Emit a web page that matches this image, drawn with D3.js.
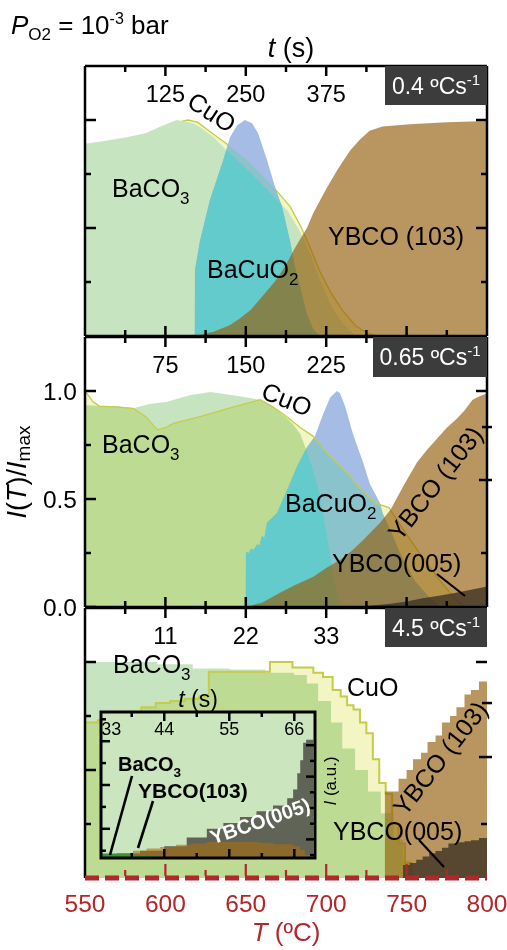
<!DOCTYPE html>
<html><head><meta charset="utf-8">
<script src="https://cdn.jsdelivr.net/npm/d3@7"></script>
<style>
body{margin:0;background:#fff;}
svg{display:block;font-family:"Liberation Sans",Arial,Helvetica,sans-serif;}
</style></head><body>
<svg id="chart" width="507" height="950"></svg>
<script>
// ---------- data: [T (°C), I/Imax] ----------
const tempTicks = [575,600,625,650,675,700,725,750,775];
const tempLabels = [550,600,650,700,750,800];
const rates = ["0.4","0.65","4.5"];
const timeLabels = [[125,250,375],[75,150,225],[11,22,33]];

const p1BaCO3 = [[550,0.89],[560,0.9],[576,0.92],[588,0.94],[597,0.97],[607,1.0],[617,0.985],[621,0.97],[630,0.92],[638,0.86],[648,0.79],[659,0.71],[668,0.64],[676,0.58],[684,0.48],[690,0.38],[696,0.26],[703,0.14],[710,0.06],[718,0]];
const p1CuO = [[550,0.86],[580,0.9],[600,0.96],[608,0.99],[614,1.0],[620,0.99],[627,0.95],[638,0.89],[650,0.82],[660,0.745],[670,0.665],[677.5,0.6],[684,0.51],[690,0.41],[696,0.3],[703,0.2],[710,0.12],[718,0.05],[725,0.015],[732,0]];
const p1BaCuO2 = [[618.3,0],[618.4,0.305],[621.5,0.44],[627.7,0.63],[635.8,0.81],[640.2,0.92],[644.5,0.975],[649.5,1.0],[653.9,0.985],[657.6,0.94],[663.2,0.815],[668.2,0.69],[672.5,0.6],[677.5,0.44],[680.6,0.32],[683.7,0.23],[688,0.1],[692,0.03],[696,0]];
const p1YBCO103 = [[618,0],[630,0.02],[640,0.05],[646,0.08],[653,0.12],[661,0.19],[669,0.26],[675,0.33],[680,0.4],[688,0.5],[692,0.57],[700,0.68],[707,0.77],[715,0.86],[721,0.91],[727,0.95],[735,0.97],[752,0.98],[775,0.99],[800,0.995]];

const p2BaCO3 = [[550,0.935],[560,0.93],[570,0.93],[580,0.92],[590,0.94],[601,0.95],[615,0.98],[628,0.995],[642,0.98],[659,0.96],[666,0.93],[673,0.89],[679,0.85],[684,0.8],[688,0.72],[692,0.63],[696,0.52],[701,0.3],[705.5,0.1],[709,0]];
const p2CuO = [[550,1.0],[555,0.95],[559,0.93],[570,0.925],[580,0.92],[588,0.88],[595,0.82],[600,0.83],[605,0.85],[621,0.88],[642,0.925],[659,0.96],[666,0.93],[673,0.895],[679,0.86],[684,0.83],[692,0.79],[702,0.7],[712,0.63],[722,0.54],[731,0.48],[739,0.46],[746,0.38],[758,0.25],[771,0.12],[780,0.04],[786,0]];
const p2BaCuO2 = [[650,0],[650.1,0.255],[652,0.25],[653,0.27],[655,0.265],[657,0.29],[658.5,0.285],[660,0.33],[661.5,0.32],[663.2,0.39],[669.4,0.435],[675.6,0.54],[681.8,0.65],[688,0.74],[693,0.79],[697.4,0.88],[702.4,0.97],[706.7,1.0],[708.6,0.99],[711.7,0.93],[716.7,0.8],[722.9,0.67],[727.2,0.57],[733.5,0.48],[735.3,0.43],[739.7,0.36],[745.9,0.25],[755.2,0.12],[764.6,0.04],[770.8,0]];
const p2YBCO103 = [[650,0],[660,0.02],[671,0.065],[680,0.1],[692,0.14],[700,0.18],[709,0.22],[716,0.26],[723,0.31],[733.5,0.39],[740,0.45],[748,0.56],[756.5,0.67],[763,0.73],[769,0.78],[775,0.83],[781,0.87],[786,0.91],[791,0.96],[795,0.975],[800,0.99]];
const p2YBCO005 = [[720,0],[730,0.008],[740,0.015],[750,0.025],[760,0.04],[770,0.052],[780,0.065],[790,0.08],[800,0.095]];

const p3BaCO3 = [[550,1.0],[595,0.99],[617,0.97],[640,0.965],[662,0.95],[680,0.94],[688,0.9],[695,0.82],[703,0.72],[710,0.6],[718,0.5],[726,0.4],[734,0.3],[742,0.18],[748,0.08],[753,0]];
const p3CuO = [[550,0.72],[558,0.73],[567,0.75],[576,0.77],[585,0.79],[594,0.81],[603,0.82],[612,0.83],[621,0.84],[627,0.955],[665,1.0],[679,0.975],[692,0.95],[698,0.93],[704,0.87],[709,0.84],[713,0.8],[717,0.78],[721,0.72],[725,0.67],[729,0.55],[733,0.44],[737,0.39],[741,0.25],[745,0.16],[749,0.07],[753,0]];
const p3YBCO103 = [[732,0],[736.5,0.40],[741,0.40],[745,0.46],[750,0.5],[754,0.55],[759,0.58],[763,0.63],[768,0.66],[772,0.72],[777,0.75],[781,0.79],[786,0.85],[790,0.87],[795,0.91],[800,0.92]];
const p3YBCO005 = [[747.8,0.06],[752,0.07],[756,0.085],[760,0.1],[764,0.115],[768,0.125],[772,0.14],[776,0.16],[781,0.165],[786,0.17],[790,0.175],[795,0.185],[800,0.19]];

// inset: [t (s), I (a.u.)]
const insetTimeLabels = [33,44,55,66];
const insetTimeTicks = [38.5,44,49.5,55,60.5,66];
const insetBaCO3 = [[33.3,0.03],[36,0.025],[39,0.02],[41,0.012],[43,0]];
const insetYBCO103 = [[33.3,0.02],[36,0.035],[38.7,0.05],[41,0.065],[43.3,0.075],[46,0.09],[48.5,0.1],[51.2,0.11],[56.8,0.11],[60,0.105],[62.4,0.095],[65.8,0.08],[67,0.055],[67.8,0.02],[68.7,0]];
const insetYBCO005 = [[33.3,0.02],[36,0.03],[39.9,0.05],[44,0.08],[47.8,0.14],[51.2,0.2],[54,0.24],[56.8,0.28],[59.6,0.32],[62.4,0.36],[64.8,0.41],[65.8,0.47],[66.5,0.58],[67,0.67],[67.5,0.79],[68,0.81],[69.2,0.81]];

// ---------- styles ----------
const C = {
  green: "rgb(199,228,192)",
  yellow: "rgb(238,240,165)",
  cuoLine: "rgb(196,204,72)",
  blue: "rgb(165,188,228)",
  teal: "rgb(109,204,177)",
  cyan: "rgb(73,208,201)",
  brown: "rgb(148,95,11)",
  dark: "rgb(55,45,35)",
  box: "#3c3c3c",
  red: "#b3262a",
  insetBg: "rgb(203,229,191)",
  insetGreen: "rgb(50,150,60)",
  insetGray: "rgb(95,100,86)",
  insetBrown: "rgb(170,108,18)"
};
const LABEL = 25;

const svg = d3.select("#chart");
const defs = svg.append("defs");
const X0 = 85, X1 = 487, PH = 270;
const x = d3.scaleLinear().domain([550,800]).range([X0,X1]);
const y = d3.scaleLinear().domain([0,1.25]).range([PH,0]);

const panels = [
  {top:66, BaCO3:p1BaCO3, CuO:p1CuO, BaCuO2:p1BaCuO2, Y103:p1YBCO103, Y005:null, step:false, cuoUnder:true,
   box:[385,102,39], rightTicks:[1,0.75,0.5,0.25], extraRight:[], leftLabels:false},
  {top:337, BaCO3:p2BaCO3, CuO:p2CuO, BaCuO2:p2BaCuO2, Y103:p2YBCO103, Y005:p2YBCO005, step:false, cuoUnder:false,
   box:[373,114,40], rightTicks:[1,0.25], extraRight:[[0.833,5],[0.588,8]], leftLabels:true},
  {top:608, BaCO3:p3BaCO3, CuO:p3CuO, BaCuO2:null, Y103:p3YBCO103, Y005:p3YBCO005, step:true, cuoUnder:false,
   box:[385,102,39], rightTicks:[1,0.25], extraRight:[[0.81,5],[0.56,8]], leftLabels:false}
];

function areaGen(step){
  return d3.area().x(d=>x(d[0])).y0(y(0)).y1(d=>y(d[1])).curve(step?d3.curveStepAfter:d3.curveLinear);
}
function lineGen(step){
  return d3.line().x(d=>x(d[0])).y(d=>y(d[1])).curve(step?d3.curveStepAfter:d3.curveLinear);
}

panels.forEach((p,i)=>{
  const g = svg.append("g").attr("transform",`translate(0,${p.top})`);
  const area = areaGen(p.step), line = lineGen(p.step);
  defs.append("clipPath").attr("id",`pc${i}`).append("rect").attr("x",X0).attr("y",0).attr("width",X1-X0).attr("height",PH);
  const body = g.append("g").attr("clip-path",`url(#pc${i})`);

  const drawCuO = () => {
    body.append("path").attr("d",area(p.CuO)).attr("fill",C.yellow).attr("fill-opacity",0.65).style("mix-blend-mode","multiply");
  };
  const drawCuOLine = () => {
    body.append("path").attr("d",line(p.CuO)).attr("fill","none").attr("stroke",C.cuoLine).attr("stroke-width",p.step?2:1.3);
  };
  if (p.cuoUnder){ drawCuO(); drawCuOLine(); }
  body.append("path").attr("d",area(p.BaCO3)).attr("fill",C.green);
  if (!p.cuoUnder){ drawCuO(); }

  if (p.BaCuO2){
    defs.append("clipPath").attr("id",`cuoc${i}`).append("path").attr("d",area(p.CuO));
    defs.append("clipPath").attr("id",`bac${i}`).append("path").attr("d",area(p.BaCO3));
    body.append("path").attr("d",area(p.BaCuO2)).attr("fill",C.blue);
    body.append("g").attr("clip-path",`url(#cuoc${i})`)
      .append("path").attr("d",area(p.BaCuO2)).attr("fill",C.teal).attr("fill-opacity",0.45);
    body.append("g").attr("clip-path",`url(#bac${i})`)
      .append("path").attr("d",area(p.BaCuO2)).attr("fill",C.cyan).attr("fill-opacity",0.6);
  }
  if (!p.cuoUnder){ drawCuOLine(); }
  body.append("path").attr("d",area(p.Y103)).attr("fill",C.brown).attr("fill-opacity",0.655);
  if (p.Y005){
    body.append("path").attr("d",area(p.Y005)).attr("fill",C.dark).attr("fill-opacity",0.75);
  }

  // frame
  const fr = g.append("g").attr("stroke","#000").attr("stroke-width",2.5).attr("fill","none");
  fr.append("line").attr("x1",X0).attr("x2",X1).attr("y1",0).attr("y2",0);
  fr.append("line").attr("x1",X0).attr("x2",X0).attr("y1",0).attr("y2",PH);
  if (i<2){
    fr.append("line").attr("x1",X1).attr("x2",X1).attr("y1",0).attr("y2",PH);
    fr.append("line").attr("x1",X0).attr("x2",X1).attr("y1",PH).attr("y2",PH);
  }
  // top ticks (inward) and bottom ticks (inward)
  tempTicks.forEach(T=>{
    const len = (T%50===0)?10:6;
    fr.append("line").attr("x1",x(T)).attr("x2",x(T)).attr("y1",0).attr("y2",len);
    if (i<2) fr.append("line").attr("x1",x(T)).attr("x2",x(T)).attr("y1",PH).attr("y2",PH-len);
  });
  // left ticks
  [0.25,0.5,0.75,1.0].concat(i===1?[0]:[]).forEach(v=>{
    const len = (v===0.25||v===0.75)?6:11;
    fr.append("line").attr("x1",X0).attr("x2",X0+len).attr("y1",y(v)).attr("y2",y(v));
  });
  // right ticks
  p.rightTicks.forEach(v=>{
    const len = (v===0.25||v===0.75)?6:11;
    fr.append("line").attr("x1",X1).attr("x2",X1-len).attr("y1",y(v)).attr("y2",y(v));
  });
  p.extraRight.forEach(([v,len])=>{
    fr.append("line").attr("x1",X1-len).attr("x2",X1+5).attr("y1",y(v)).attr("y2",y(v));
  });

  // time labels on the top axis (placed at 600/650/700 °C)
  g.selectAll(".tl").data(timeLabels[i]).enter().append("text")
    .attr("x",(d,k)=>x(600+50*k)).attr("y",36)
    .attr("text-anchor","middle").attr("font-size",23.5).text(d=>d);

  // rate box
  const [bx,bw,bh] = p.box;
  g.append("rect").attr("x",bx).attr("y",0).attr("width",bw).attr("height",bh).attr("fill",C.box);
  const rt = g.append("text").attr("x",bx+bw/2).attr("y",bh/2+8).attr("text-anchor","middle")
    .attr("fill","#fff").attr("font-size",23);
  rt.append("tspan").text(rates[i]+" ºCs");
  rt.append("tspan").attr("dy",-9).attr("font-size",15).text("-1");

  if (p.leftLabels){
    [0,0.5,1.0].forEach(v=>{
      g.append("text").attr("x",77).attr("y",y(v)+9).attr("text-anchor","end").attr("font-size",24.5).text(v.toFixed(1));
    });
  }
});

// ---------- text labels ----------
function chem(parent, xPos, yPos, main, sub, size, opts={}){
  const t = parent.append("text").attr("x",xPos).attr("y",yPos).attr("font-size",size);
  if (opts.weight) t.attr("font-weight",opts.weight);
  if (opts.fill) t.attr("fill",opts.fill);
  t.append("tspan").text(main);
  t.append("tspan").attr("dy",size*0.28).attr("font-size",size*0.68).text(sub);
  return t;
}
function rotText(xc, yc, ang, str, size, opts={}){
  const t = svg.append("text").attr("transform",`translate(${xc},${yc}) rotate(${ang})`)
    .attr("text-anchor","middle").attr("dominant-baseline","central").attr("font-size",size).text(str);
  if (opts.weight) t.attr("font-weight",opts.weight);
  if (opts.fill) t.attr("fill",opts.fill);
  return t;
}
function plain(xPos, yPos, str, size){
  return svg.append("text").attr("x",xPos).attr("y",yPos).attr("font-size",size).text(str);
}
function leader(x1,y1,x2,y2,w){
  svg.append("line").attr("x1",x1).attr("y1",y1).attr("x2",x2).attr("y2",y2).attr("stroke","#000").attr("stroke-width",w||2);
}

// panel 1
chem(svg,112,197,"BaCO","3",LABEL);
rotText(212,112,33,"CuO",LABEL);
chem(svg,207,278,"BaCuO","2",LABEL);
plain(328,245,"YBCO (103)",LABEL);
// panel 2
chem(svg,102,453,"BaCO","3",LABEL);
rotText(287,399,22,"CuO",LABEL);
chem(svg,285,512,"BaCuO","2",LABEL);
rotText(435,483,-52,"YBCO (103)",LABEL);
plain(332,572,"YBCO(005)",LABEL);
leader(437,574,465,596,2.2);
// panel 3
chem(svg,113,673,"BaCO","3",LABEL);
plain(347,696,"CuO",LABEL);
rotText(440,758,-52,"YBCO (103)",LABEL);
plain(333,840,"YBCO(005)",LABEL);
leader(419,840,444,867,2.2);

// ---------- inset ----------
const ix = d3.scaleLinear().domain([33.3,69.5]).range([101,315]);
const iy = d3.scaleLinear().domain([0,1]).range([858,712]);
const iArea = d3.area().x(d=>ix(d[0])).y0(iy(0)).y1(d=>iy(d[1])).curve(d3.curveStepAfter);
const ins = svg.append("g");
defs.append("clipPath").attr("id","insc").append("rect").attr("x",101).attr("y",712).attr("width",214).attr("height",146);
ins.append("rect").attr("x",101).attr("y",712).attr("width",214).attr("height",146).attr("fill",C.insetBg);
const ib = ins.append("g").attr("clip-path","url(#insc)");
ib.append("path").attr("d",iArea(insetYBCO005)).attr("fill",C.insetGray);
ib.append("path").attr("d",iArea(insetYBCO103)).attr("fill",C.insetBrown).attr("fill-opacity",0.6);
ib.append("path").attr("d",iArea(insetBaCO3)).attr("fill",C.insetGreen);
const ifr = ins.append("g").attr("stroke","#000").attr("fill","none");
ifr.append("rect").attr("x",101).attr("y",712).attr("width",214).attr("height",146).attr("stroke-width",3);
insetTimeTicks.forEach(t=>{
  const len = insetTimeLabels.includes(t)?9:5;
  ifr.append("line").attr("x1",ix(t)).attr("x2",ix(t)).attr("y1",712).attr("y2",712+len).attr("stroke-width",2.5);
  ifr.append("line").attr("x1",ix(t)).attr("x2",ix(t)).attr("y1",858).attr("y2",858-len).attr("stroke-width",2.5);
});
[0.05,0.2,0.35,0.5,0.65,0.8,0.95].forEach((v,k)=>{
  const len = (k%2===1)?9:5;
  ifr.append("line").attr("x1",101).attr("x2",101+len).attr("y1",iy(v)).attr("y2",iy(v)).attr("stroke-width",2.5);
});
[0.02,0.1275,0.235,0.3425,0.45,0.5575,0.665,0.7725].forEach((v,k)=>{
  const len = (k%2===1)?9:5;
  ifr.append("line").attr("x1",315).attr("x2",315-len).attr("y1",iy(v)).attr("y2",iy(v)).attr("stroke-width",2.5);
});
ins.selectAll(".itl").data(insetTimeLabels).enter().append("text")
  .attr("x",(d,k)=>k===0?ix(d)+2:ix(d)).attr("y",735)
  .attr("text-anchor",(d,k)=>k===0?"start":"middle").attr("font-size",18).text(d=>d);
const its = ins.append("text").attr("x",198).attr("y",707).attr("text-anchor","middle").attr("font-size",23);
its.append("tspan").attr("font-style","italic").text("t");
its.append("tspan").text(" (s)");
const ial = ins.append("text").attr("transform","translate(330,781) rotate(-90)").attr("text-anchor","middle").attr("dominant-baseline","central").attr("font-size",17);
ial.append("tspan").attr("font-style","italic").text("I");
ial.append("tspan").text(" (a.u.)");
chem(svg,118,771,"BaCO","3",20,{weight:"bold"});
plain(138,798,"YBCO(103)",21).attr("font-weight","bold");
leader(132,776,110,855,2.6);
leader(153,801,138,848,2.6);
rotText(260,821,-19,"YBCO(005)",20,{weight:"bold",fill:"#fff"});

// ---------- bottom temperature axis (red, dashed) ----------
const ax = svg.append("g");
ax.append("line").attr("x1",X0).attr("x2",X1).attr("y1",878).attr("y2",878)
  .attr("stroke",C.red).attr("stroke-width",5).attr("stroke-dasharray","14,6");
tempTicks.forEach(T=>{
  const len = (T%50===0)?12:6;
  ax.append("line").attr("x1",x(T)).attr("x2",x(T)).attr("y1",876).attr("y2",876-len).attr("stroke",C.red).attr("stroke-width",2.2);
});
ax.selectAll(".bl").data(tempLabels).enter().append("text")
  .attr("x",d=>x(d)).attr("y",912).attr("text-anchor","middle").attr("font-size",24.5).attr("fill",C.red).text(d=>d);
const tt = ax.append("text").attr("x",286).attr("y",941).attr("text-anchor","middle").attr("font-size",26).attr("fill",C.red);
tt.append("tspan").attr("font-style","italic").text("T");
tt.append("tspan").text(" (ºC)");

// ---------- axis titles and header ----------
const ts = svg.append("text").attr("x",291).attr("y",57).attr("text-anchor","middle").attr("font-size",27);
ts.append("tspan").attr("font-style","italic").text("t");
ts.append("tspan").text(" (s)");

const yl = svg.append("text").attr("transform","translate(17,472) rotate(-90)").attr("text-anchor","middle").attr("dominant-baseline","central").attr("font-size",27);
yl.append("tspan").attr("font-style","italic").text("I");
yl.append("tspan").text("(");
yl.append("tspan").attr("font-style","italic").text("T");
yl.append("tspan").text(")/");
yl.append("tspan").attr("font-style","italic").text("I");
yl.append("tspan").attr("dy",6).attr("font-size",19).text("max");

const hd = svg.append("text").attr("x",11).attr("y",34).attr("font-size",26);
hd.append("tspan").attr("font-style","italic").text("P");
hd.append("tspan").attr("dy",6).attr("font-size",17).text("O2");
hd.append("tspan").attr("dy",-6).text(" = 10");
hd.append("tspan").attr("dy",-10).attr("font-size",16).text("-3");
hd.append("tspan").attr("dy",10).text(" bar");
</script>
</body></html>
